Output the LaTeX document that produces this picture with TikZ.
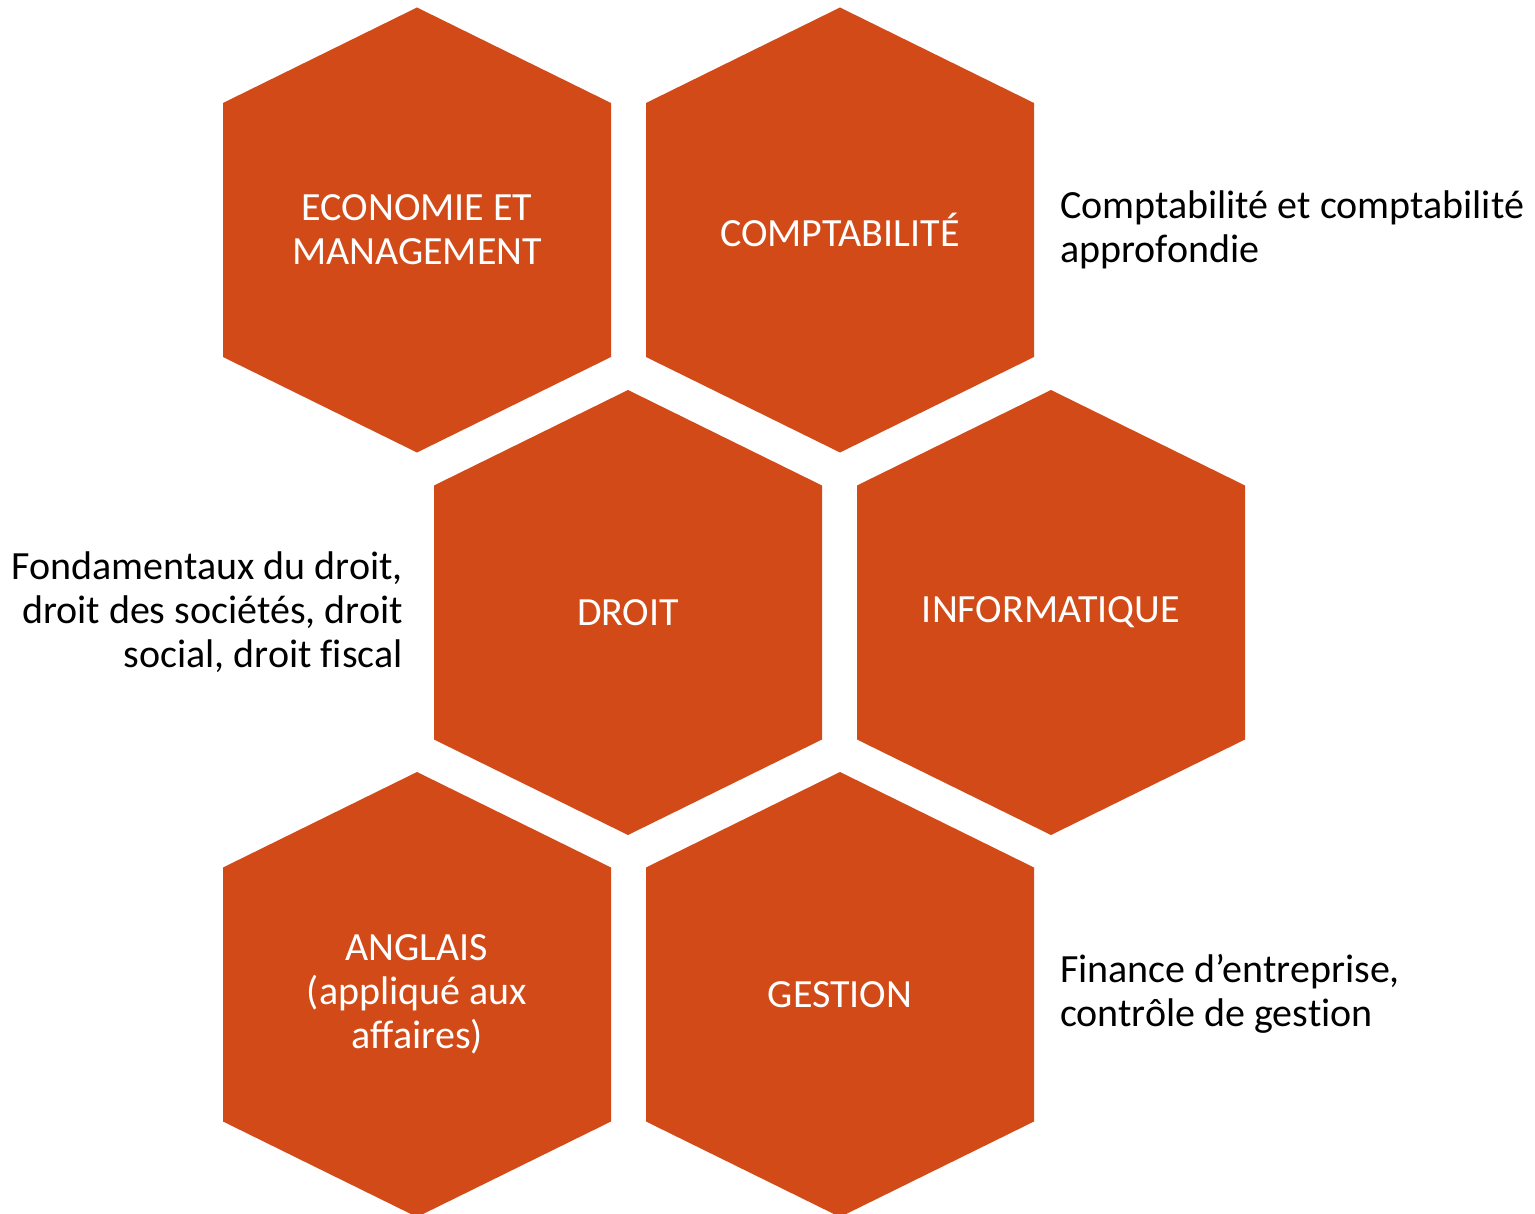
\documentclass[tikz,border=0pt]{standalone}
\usepackage{fontspec}
\setmainfont[Ligatures=NoCommon]{Carlito}
\usetikzlibrary{calc}

\definecolor{hexorange}{HTML}{D24A18}

\tikzset{
  hexlabel/.style={text=white, align=center, inner sep=0pt, font=\fontsize{40}{44}\selectfont},
  sidetext/.style={text=black, inner sep=0pt, font=\fontsize{40}{44}\selectfont}
}

\begin{document}
\begin{tikzpicture}[x=1pt,y=-1pt]
  \useasboundingbox (0,0) rectangle (1535,1214);

  \coordinate (eco) at (417,230);
  \coordinate (compta) at (840,230);
  \coordinate (droit) at (628,612.5);
  \coordinate (info) at (1051,612.5);
  \coordinate (angl) at (417,994.5);
  \coordinate (gest) at (840,994.5);

  \foreach \c in {eco,compta,droit,info,angl,gest}
    \fill [hexorange] ($(\c)+(0,-222.5)$) -- ($(\c)+(194,-127)$) -- ($(\c)+(194,127)$)
      -- ($(\c)+(0,222.5)$) -- ($(\c)+(-194,127)$) -- ($(\c)+(-194,-127)$) -- cycle;

  \node [hexlabel] (ecotxt) at (eco) {ECONOMIE ET\\MANAGEMENT};
  \node [hexlabel] (comptatxt) at (compta) {COMPTABILITÉ};
  \node [hexlabel] (droittxt) at (droit) {DROIT};
  \node [hexlabel] (infotxt) at (info) {INFORMATIQUE};
  \node [hexlabel] (angltxt) at (angl) {ANGLAIS\\(appliqué aux\\affaires)};
  \node [hexlabel] (gesttxt) at (gest) {GESTION};

  \node [sidetext, anchor=west, align=left] (comptanote) at (1060,230)
    {Comptabilité et comptabilité\\approfondie};
  \node [sidetext, anchor=east, align=right] (droitnote) at (403,612)
    {Fondamentaux du droit,\\droit des sociétés, droit\\social, droit fiscal};
  \node [sidetext, anchor=west, align=left] (gestnote) at (1060,994)
    {Finance d’entreprise,\\contrôle de gestion};
\end{tikzpicture}
\end{document}
